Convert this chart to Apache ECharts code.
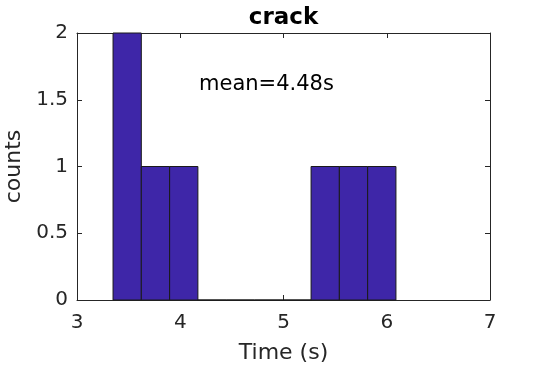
<!DOCTYPE html>
<html><head><meta charset="utf-8">
<script src="https://cdn.jsdelivr.net/npm/echarts@6/dist/echarts.min.js"></script>
<style>html,body{margin:0;padding:0;background:#fff}#c{width:542px;height:365px}</style>
</head><body><div id="c"></div>
<script>
var binEdges = [3.349, 3.623, 3.897, 4.171, 4.445, 4.719, 4.993, 5.267, 5.541, 5.815, 6.089];
var counts = [2, 1, 1, 0, 0, 0, 0, 1, 1, 1];
var xTicks = [3, 4, 5, 6, 7];
var yTicks = [0, 0.5, 1, 1.5, 2];
var titleText = 'crack';
var meanText = 'mean=4.48s';

var data = counts.map(function (c, i) { return [binEdges[i], binEdges[i + 1], c]; });
var chart = echarts.init(document.getElementById('c'), null, {renderer: 'canvas'});
var font = 'DejaVu Sans';
var axisCol = '#262626';
chart.setOption({
  animation: false,
  textStyle: {fontFamily: font},
  grid: {left: 77, right: 52, top: 33, bottom: 65, containLabel: false, outerBoundsMode: 'none'},
  xAxis: [{
    type: 'value', min: xTicks[0], max: xTicks[xTicks.length - 1], interval: 1,
    name: 'Time (s)', nameLocation: 'middle', nameGap: 42,
    nameTextStyle: {fontFamily: font, fontSize: 22, color: axisCol},
    axisLine: {show: true, lineStyle: {color: axisCol, width: 1}},
    axisTick: {show: true, inside: true, length: 5, lineStyle: {color: axisCol}},
    axisLabel: {fontFamily: font, fontSize: 20, color: axisCol, margin: 13},
    splitLine: {show: false}
  }, {
    type: 'value', position: 'top', min: xTicks[0], max: xTicks[xTicks.length - 1], interval: 1,
    axisLine: {show: true, onZero: false, lineStyle: {color: axisCol, width: 1}},
    axisTick: {show: true, inside: true, length: 5, lineStyle: {color: axisCol}},
    axisLabel: {show: false}, splitLine: {show: false}
  }],
  yAxis: [{
    type: 'value', min: yTicks[0], max: yTicks[yTicks.length - 1], interval: 0.5,
    name: 'counts', nameLocation: 'middle', nameGap: 48, nameRotate: 90,
    nameTextStyle: {fontFamily: font, fontSize: 22, color: axisCol},
    axisLine: {show: true, lineStyle: {color: axisCol, width: 1}},
    axisTick: {show: true, inside: true, length: 5, lineStyle: {color: axisCol}},
    axisLabel: {fontFamily: font, fontSize: 20, color: axisCol, margin: 9},
    splitLine: {show: false}
  }, {
    type: 'value', position: 'right', min: yTicks[0], max: yTicks[yTicks.length - 1], interval: 0.5,
    axisLine: {show: true, onZero: false, lineStyle: {color: axisCol, width: 1}},
    axisTick: {show: true, inside: true, length: 5, lineStyle: {color: axisCol}},
    axisLabel: {show: false}, splitLine: {show: false}
  }],
  graphic: [
    {type: 'text', x: 283.5, y: 7,
      style: {text: titleText, font: 'bold 23px "DejaVu Sans"', fill: '#000', align: 'center', verticalAlign: 'top'}},
    {type: 'text', left: 199, top: 74,
      style: {text: meanText, font: '21px "DejaVu Sans"', fill: '#000'}}
  ],
  series: [{
    type: 'custom', xAxisIndex: 0, yAxisIndex: 0,
    data: data,
    renderItem: function (params, api) {
      var p0 = api.coord([api.value(0), api.value(2)]);
      var p1 = api.coord([api.value(1), 0]);
      return {type: 'rect',
        shape: {x: p0[0], y: p0[1], width: p1[0] - p0[0], height: p1[1] - p0[1]},
        style: {fill: '#3e26a8', stroke: '#1a1a1a', lineWidth: 1}};
    },
    z: 3
  }]
});
</script></body></html>
